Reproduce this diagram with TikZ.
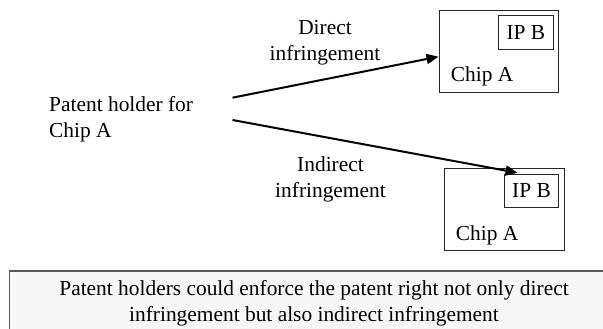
\documentclass[tikz,border=0pt]{standalone}
\usepackage{fontspec}
\setmainfont{Liberation Serif}
\usetikzlibrary{arrows.meta,calc}

\tikzset{
  lbl/.style={inner sep=0pt, font=\fontsize{21.4}{25.6}\selectfont, align=center},
  chipbox/.style={draw=black!85, line width=1pt, inner sep=0pt},
  ipbox/.style={draw=black!85, line width=1pt, inner sep=0pt,
    minimum width=54.3pt, minimum height=34pt,
    font=\fontsize{21.4}{25.6}\selectfont},
  conn/.style={line width=2pt, -{Triangle[length=12pt,width=10pt]}},
  notebox/.style={draw=black!65, line width=1.2pt, fill=black!3}
}

\begin{document}
\begin{tikzpicture}[x=1pt,y=-1pt]
  \useasboundingbox (0,0) rectangle (603,329);

  % summary panel along the bottom edge
  \path[notebox] (9.3,271) rectangle (620,340);
  \node[lbl] (note) at (314,303.4)
    {Patent holders could enforce the patent right not only direct\\
     infringement but also indirect infringement};

  % patent holder on the left
  \node[lbl, anchor=west, align=left] (holder) at (49,119.5)
    {Patent holder for\\Chip A};

  % upper chip: direct infringement
  \node[chipbox, minimum width=119.7pt, minimum height=81.3pt] (chip1)
    at (498.85,51.65) {};
  \node[ipbox] (ipb1) at (525.9,33) {IP B};
  \node[lbl, anchor=base west] (chip1lbl) at (450.7,81.7) {Chip A};

  % lower chip: indirect infringement
  \node[chipbox, minimum width=119.5pt, minimum height=81.3pt] (chip2)
    at (504.25,209.35) {};
  \node[ipbox, minimum height=33pt] (ipb2) at (531.5,190.8) {IP B};
  \node[lbl, anchor=base west] (chip2lbl) at (455.7,240) {Chip A};

  % arrow labels
  \node[lbl] (dlbl) at (325,42.8) {Direct\\infringement};
  \node[lbl] (ilbl) at (330.5,179.3) {Indirect\\infringement};

  % connectors
  \coordinate (dsrc) at (232.5,97.7);
  \coordinate (isrc) at (232.5,120);
  \draw[conn] (dsrc) -- ([yshift=-5pt]chip1.west);
  \draw[conn] (isrc) -- ([xshift=13.7pt,yshift=1pt]ipb2.north west);
\end{tikzpicture}
\end{document}
